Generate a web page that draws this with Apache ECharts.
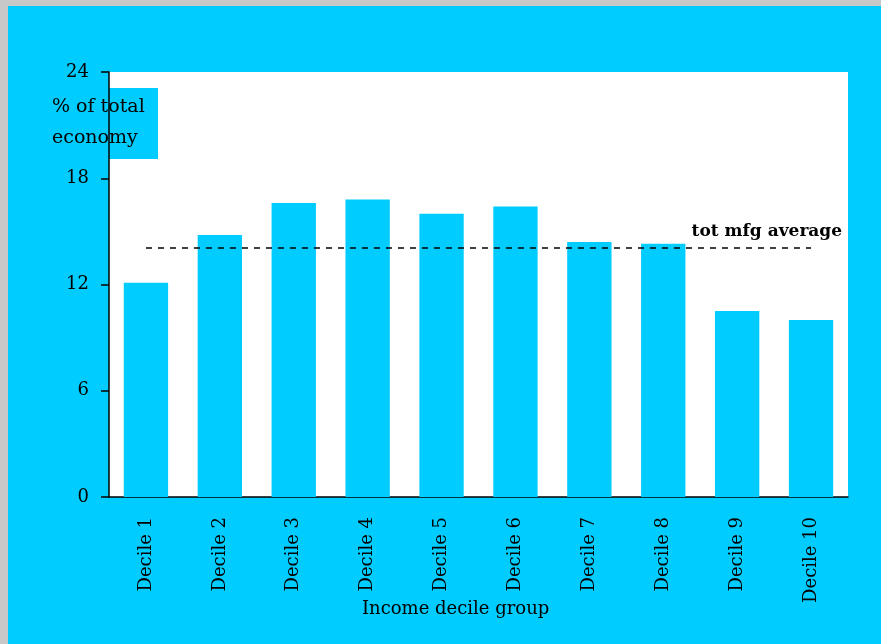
<!DOCTYPE html>
<html>
<head>
<meta charset="utf-8">
<script src="https://cdn.jsdelivr.net/npm/echarts@6/dist/echarts.min.js"></script>
<style>
  html, body { margin: 0; padding: 0; background: #c8c8c8; }
  #chart { position: absolute; left: 8px; top: 6px; width: 873px; height: 638px; }
</style>
</head>
<body>
<div id="chart"></div>
<script>
const categories = ['Decile 1', 'Decile 2', 'Decile 3', 'Decile 4', 'Decile 5',
                    'Decile 6', 'Decile 7', 'Decile 8', 'Decile 9', 'Decile 10']
const shares = [12.1, 14.8, 16.6, 16.8, 16.0, 16.4, 14.4, 14.3, 10.5, 10.0]
const mfgAverage = 14.1
const yTicks = [0, 6, 12, 18, 24]

const cyan = '#00CCFF'
const font = '"DejaVu Serif", "Liberation Serif", serif'

let chart = echarts.init(document.getElementById('chart'))
chart.setOption({
    backgroundColor: cyan,
    textStyle: { fontFamily: font },
    grid: { left: 101, top: 66, right: 33, bottom: 147, show: true, backgroundColor: '#fff', borderWidth: 0 },
    xAxis: {
        type: 'category',
        data: categories,
        axisLine: { lineStyle: { color: '#000', width: 1.5 } },
        axisTick: { show: false },
        axisLabel: { rotate: 90, color: '#000', fontSize: 18, margin: 20, fontFamily: font }
    },
    yAxis: {
        type: 'value',
        min: yTicks[0],
        max: yTicks[yTicks.length - 1],
        interval: 6,
        splitLine: { show: false },
        axisLine: { show: true, lineStyle: { color: '#000', width: 1.5 } },
        axisTick: { show: true, length: 8, lineStyle: { color: '#000', width: 1.5 } },
        axisLabel: { color: '#000', fontSize: 18, margin: 20, fontFamily: font }
    },
    graphic: [
        {
            type: 'rect', left: 39, top: 82,
            shape: { width: 111, height: 71 },
            style: { fill: cyan }
        },
        {
            type: 'text', left: 44, top: 86,
            style: { text: '% of total\neconomy', font: '19px ' + font, fill: '#000', lineHeight: 31 }
        },
        {
            type: 'text', left: 354, top: 594,
            style: { text: 'Income decile group', font: '18px ' + font, fill: '#000' }
        }
    ],
    series: [{
        type: 'bar',
        data: shares,
        barWidth: '60%',
        barCategoryGap: '40%',
        itemStyle: { color: cyan },
        markLine: {
            silent: true,
            symbol: 'none',
            lineStyle: { color: '#000', type: [6, 6], width: 1.5 },
            label: {
                show: true, position: 'insideEndTop', formatter: 'tot mfg average',
                color: '#000', fontWeight: 'bold', fontSize: 17, fontFamily: font,
                offset: [36, -2]
            },
            data: [[{ xAxis: 0, yAxis: mfgAverage }, { xAxis: 9, yAxis: mfgAverage }]]
        }
    }]
})
</script>
</body>
</html>
